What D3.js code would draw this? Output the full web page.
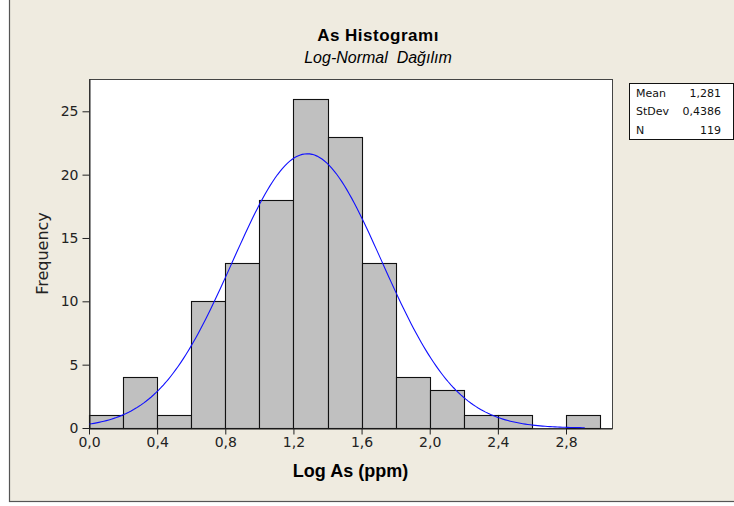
<!DOCTYPE html>
<html>
<head>
<meta charset="utf-8">
<script src="https://cdn.jsdelivr.net/npm/d3@7/dist/d3.min.js"></script>
<style>
  html, body { margin: 0; padding: 0; background: #ffffff; }
  svg { display: block; }
</style>
</head>
<body>
<svg id="chart" width="734" height="506"></svg>
<script>
// ---- data ----
const binStarts = [0.0, 0.2, 0.4, 0.6, 0.8, 1.0, 1.2, 1.4, 1.6, 1.8, 2.0, 2.2, 2.4, 2.6, 2.8];
const binWidth = 0.2;
const counts    = [1, 4, 1, 10, 13, 18, 26, 23, 13, 4, 3, 1, 1, 0, 1];
const xTicks = [0.0, 0.4, 0.8, 1.2, 1.6, 2.0, 2.4, 2.8];
const yTicks = [0, 5, 10, 15, 20, 25];
const statLabels = ["Mean", "StDev", "N"];
const statValues = ["1,281", "0,4386", "119"];
const fitMean = 1.281;
const fitStDev = 0.4386;
const fitN = 119;
const fitRange = [0.0, 2.91];
const xDomain = [0, 3.07];
const yDomain = [0, 27.55];
const titleText = "As Histogramı";
const subtitleText = "Log-Normal  Dağılım";
const xLabelText = "Log As (ppm)";
const yLabelText = "Frequency";

// ---- layout ----
const svg = d3.select("#chart");
const plot = { left: 89, right: 612, top: 79, bottom: 428 };

const locale = d3.formatLocale({ decimal: ",", thousands: ".", grouping: [3], currency: ["", ""] });
const fmt1 = locale.format(".1f");

// outer frame (extends beyond top/right of the picture)
svg.append("rect")
  .attr("x", 9.5).attr("y", -10).attr("width", 760).attr("height", 511.5)
  .attr("fill", "#efebe0").attr("stroke", "#555").attr("stroke-width", 1.2);

const x = d3.scaleLinear().domain(xDomain).range([plot.left, plot.right]);
const y = d3.scaleLinear().domain(yDomain).range([plot.bottom, plot.top]);

// plot area
svg.append("rect")
  .attr("x", plot.left + 0.5).attr("y", plot.top + 0.5)
  .attr("width", plot.right - plot.left).attr("height", plot.bottom - plot.top)
  .attr("fill", "#ffffff").attr("stroke", "#444").attr("stroke-width", 1);

// bars
const bars = binStarts.map((b, i) => ({ x0: b, x1: b + binWidth, n: counts[i] })).filter(d => d.n > 0);
svg.append("g").selectAll("rect").data(bars).join("rect")
  .attr("x", d => Math.round(x(d.x0)) + 0.5)
  .attr("y", d => Math.round(y(d.n)) + 0.5)
  .attr("width", d => Math.round(x(d.x1)) - Math.round(x(d.x0)))
  .attr("height", d => Math.round(y(0)) - Math.round(y(d.n)))
  .attr("fill", "#c0c0c0").attr("stroke", "#111").attr("stroke-width", 1.1);

// fitted normal curve from the displayed Mean / StDev / N
const scaleF = fitN * binWidth;
const pdf = v => scaleF * Math.exp(-0.5 * Math.pow((v - fitMean) / fitStDev, 2)) / (fitStDev * Math.sqrt(2 * Math.PI));
const curvePts = d3.range(0, 201).map(i => fitRange[0] + (fitRange[1] - fitRange[0]) * i / 200).map(v => [v, pdf(v)]);
svg.append("path")
  .attr("d", d3.line().x(d => x(d[0])).y(d => y(d[1]))(curvePts))
  .attr("fill", "none").attr("stroke", "#1010ff").attr("stroke-width", 1.1);

// axes
const xAxis = d3.axisBottom(x).tickValues(xTicks).tickFormat(fmt1).tickSize(6).tickSizeOuter(0).tickPadding(3);
const gx = svg.append("g").attr("transform", `translate(0,${plot.bottom + 0.5})`).call(xAxis);
const yAxis = d3.axisLeft(y).tickValues(yTicks).tickSize(7).tickSizeOuter(0).tickPadding(4);
const gy = svg.append("g").attr("transform", `translate(${plot.left + 0.5},0)`).call(yAxis);
[gx, gy].forEach(g => {
  g.select(".domain").attr("stroke", "#222");
  g.selectAll(".tick line").attr("stroke", "#222");
  g.selectAll(".tick text").attr("fill", "#222")
    .style("font-family", "'DejaVu Sans', sans-serif").style("font-size", "14px");
});

// titles
svg.append("text").attr("x", 378).attr("y", 41).attr("text-anchor", "middle")
  .style("font-family", "'Liberation Sans', Arial, sans-serif").style("font-size", "17px")
  .style("font-weight", "bold").style("letter-spacing", "0.5px").attr("fill", "#000").text(titleText);
svg.append("text").attr("x", 378).attr("y", 63).attr("text-anchor", "middle")
  .style("font-family", "'Liberation Sans', Arial, sans-serif").style("font-size", "16px")
  .style("font-style", "italic").style("white-space", "pre").attr("xml:space", "preserve")
  .attr("fill", "#000").text(subtitleText);
svg.append("text").attr("x", (plot.left + plot.right) / 2).attr("y", 477).attr("text-anchor", "middle")
  .style("font-family", "'Liberation Sans', Arial, sans-serif").style("font-size", "18px")
  .style("font-weight", "bold").attr("fill", "#000").text(xLabelText);
svg.append("text").attr("transform", `translate(48,${(plot.top + plot.bottom) / 2}) rotate(-90)`)
  .attr("text-anchor", "middle")
  .style("font-family", "'DejaVu Sans', sans-serif").style("font-size", "16px")
  .attr("fill", "#222").text(yLabelText);

// stats box
const box = svg.append("g");
box.append("rect").attr("x", 629.5).attr("y", 83.5).attr("width", 104).attr("height", 56)
  .attr("fill", "#ffffff").attr("stroke", "#111").attr("stroke-width", 1);
statLabels.forEach((lab, i) => {
  box.append("text").attr("x", 636).attr("y", 97 + i * 18.3)
    .style("font-family", "'DejaVu Sans', sans-serif").style("font-size", "11px")
    .attr("fill", "#111").text(lab);
  box.append("text").attr("x", 721).attr("y", 97 + i * 18.3).attr("text-anchor", "end")
    .style("font-family", "'DejaVu Sans', sans-serif").style("font-size", "11px")
    .attr("fill", "#111").text(statValues[i]);
});
</script>
</body>
</html>
